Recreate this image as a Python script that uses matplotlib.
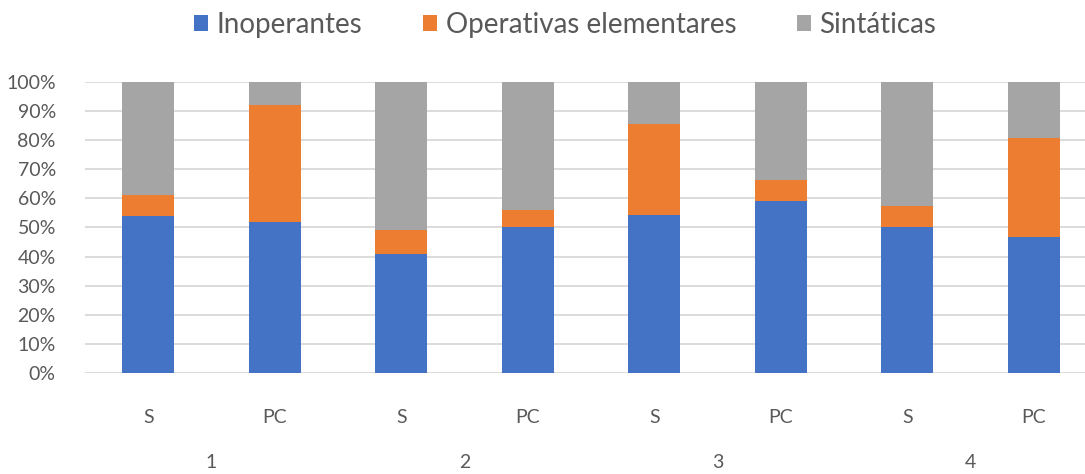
import numpy as np
import matplotlib.pyplot as plt
import matplotlib.transforms as mtransforms
from matplotlib.ticker import PercentFormatter

# Datos
categorias = ["S", "PC", "S", "PC", "S", "PC", "S", "PC"]
grupos = ["1", "2", "3", "4"]
inoperantes = np.array([54.0, 52.0, 41.0, 50.0, 54.3, 59.1, 50.0, 46.8])
operativas = np.array([7.0, 40.0, 8.0, 6.0, 31.3, 7.1, 7.4, 34.0])
sintaticas = np.array([39.0, 8.0, 51.0, 44.0, 14.4, 33.8, 42.6, 19.2])

series = ["Inoperantes", "Operativas elementares", "Sintáticas"]
cores = ["#4472c4", "#ed7d31", "#a5a5a5"]
cor_texto = "#595959"

plt.rcParams["font.family"] = ["Lato", "DejaVu Sans"]

fig = plt.figure(figsize=(10.85, 4.74), dpi=100)
ax = fig.add_axes([85 / 1085, 101 / 474, 1012 / 1085, 291 / 474])

x = np.arange(len(categorias))
largura = 0.41
base = np.zeros(len(categorias))
for valores, nome, cor in zip([inoperantes, operativas, sintaticas], series, cores):
    ax.bar(x, valores, largura, bottom=base, color=cor, label=nome, zorder=3)
    base = base + valores

ax.set_xlim(-0.5, len(categorias) - 0.5)
ax.set_ylim(0, 100)
ax.set_yticks(np.arange(0, 101, 10))
ax.yaxis.set_major_formatter(PercentFormatter(decimals=0))
ax.set_xticks(x)
ax.set_xticklabels(categorias)
ax.tick_params(axis="both", length=0, labelsize=14, colors=cor_texto)
ax.tick_params(axis="x", pad=26)
ax.tick_params(axis="y", pad=21)
ax.grid(axis="y", color="#d9d9d9", linewidth=1.3, zorder=0)
for lado in ["top", "right", "left", "bottom"]:
    ax.spines[lado].set_visible(False)

# Rótulos dos grupos (segundo nível do eixo x)
trans = mtransforms.blended_transform_factory(ax.transData, fig.transFigure)
for i, g in enumerate(grupos):
    ax.text(2 * i + 0.5, 3 / 474, g, transform=trans,
            ha="center", va="bottom", fontsize=14, color=cor_texto)

fig.legend(loc="center", bbox_to_anchor=(0.521, 0.947), ncol=3, frameon=False,
           fontsize=20, handlelength=0.5, handleheight=0.5, handletextpad=0.3,
           columnspacing=2.2, labelcolor=cor_texto)

fig.savefig("out.png", dpi=100)
